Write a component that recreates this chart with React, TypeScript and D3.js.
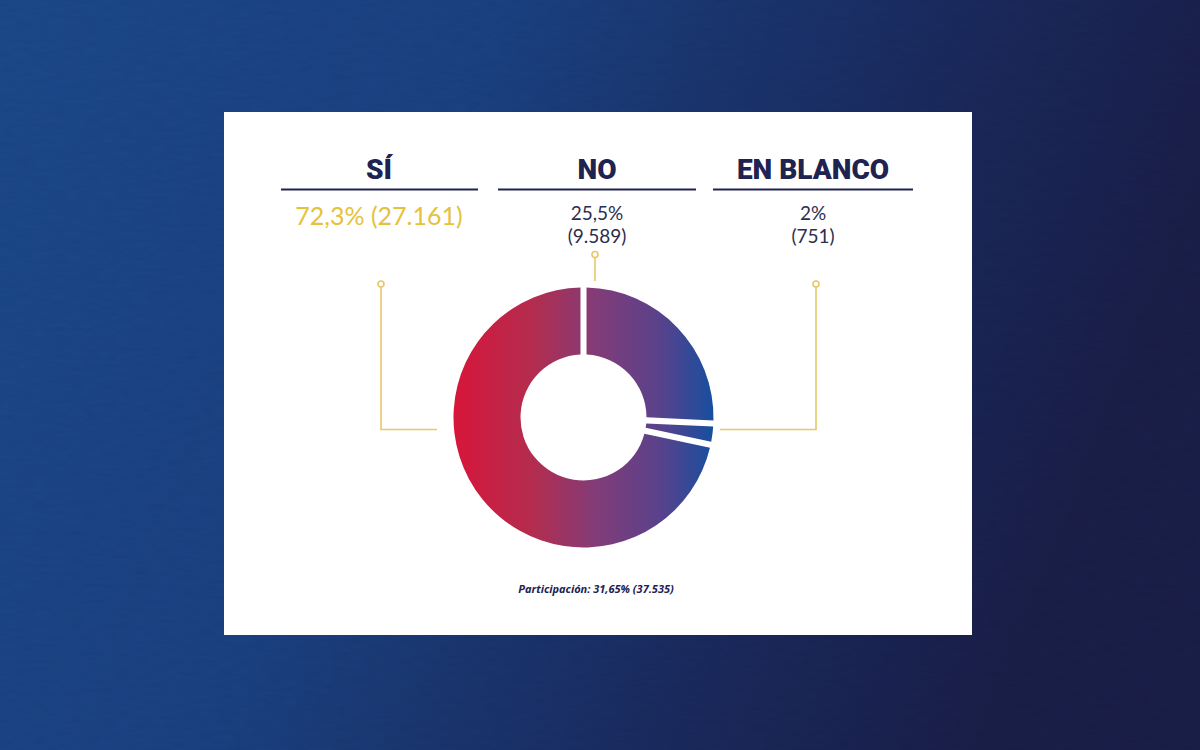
import React from "react";
import * as d3 from "d3";

const categories = ["SÍ", "NO", "EN BLANCO"];
const votes = [27161, 9589, 751];
const percentLabels = ["72,3%", "25,5%", "2%"];
const countLabels = ["(27.161)", "(9.589)", "(751)"];
const pieOrder = [1, 2, 0]; // drawn clockwise from top: NO, EN BLANCO, SÍ
const participation = "Participación: 31,65% (37.535)";

const W = 1200;
const H = 750;

export default function App() {
  const card = { x: 224, y: 112, w: 748, h: 523 };
  const cx = 583.5;
  const cy = 417.5;
  const outerR = 130;
  const innerR = 63;

  const headerXs = [379, 597, 813];

  const pieData = pieOrder.map((i) => ({ name: categories[i], value: votes[i] }));
  const pie = d3
    .pie<{ name: string; value: number }>()
    .value((d) => d.value)
    .sort(null)
    .padAngle(0.042);
  const arcs = pie(pieData);
  const arcGen = d3
    .arc<d3.PieArcDatum<{ name: string; value: number }>>()
    .innerRadius(innerR)
    .outerRadius(outerR);

  const navy = "#20224f";
  const yellow = "#e5c23c";
  const lineYellow = "#e8c766";

  return (
    <svg
      width={W}
      height={H}
      style={{ position: "absolute", left: 0, top: 0, display: "block" }}
    >
      <defs>
        <linearGradient id="bg" x1="0" y1="0" x2="1" y2="0.25">
          <stop offset="0" stopColor="#1c4a8d" />
          <stop offset="0.4" stopColor="#1b4283" />
          <stop offset="0.75" stopColor="#1a2b60" />
          <stop offset="1" stopColor="#1a1f4a" />
        </linearGradient>
        <linearGradient
          id="donut"
          gradientUnits="userSpaceOnUse"
          x1={-outerR}
          y1={0}
          x2={outerR}
          y2={0}
        >
          <stop offset="0" stopColor="#d7163a" />
          <stop offset="0.3" stopColor="#b42c4e" />
          <stop offset="0.55" stopColor="#823c78" />
          <stop offset="0.8" stopColor="#58428c" />
          <stop offset="1" stopColor="#164f9f" />
        </linearGradient>
        <filter id="paper" x="0" y="0" width="1" height="1">
          <feTurbulence type="fractalNoise" baseFrequency="0.06 0.25" numOctaves="2" seed="3" />
          <feColorMatrix
            type="matrix"
            values="0 0 0 0 0  0 0 0 0 0  0 0 0 0 0  0 0 0 0.08 0"
          />
          <feComposite in2="SourceGraphic" operator="in" />
        </filter>
      </defs>

      <rect x={0} y={0} width={W} height={H} fill="url(#bg)" />
      <rect x={0} y={0} width={W} height={H} fill="#000" filter="url(#paper)" />

      <rect x={card.x} y={card.y} width={card.w} height={card.h} fill="#ffffff" />

      {categories.map((c, i) => (
        <text
          key={c}
          x={headerXs[i]}
          y={179}
          textAnchor="middle"
          fontFamily="Roboto, 'DejaVu Sans', sans-serif"
          fontWeight={900}
          fontSize={28}
          fill={navy}
        >
          {c}
        </text>
      ))}
      <line x1={281} x2={478} y1={189.5} y2={189.5} stroke={navy} strokeWidth={1.8} />
      <line x1={498} x2={696} y1={189.5} y2={189.5} stroke={navy} strokeWidth={1.8} />
      <line x1={713} x2={913} y1={189.5} y2={189.5} stroke={navy} strokeWidth={1.8} />

      {/* SÍ value */}
      <text
        x={headerXs[0]}
        y={225}
        textAnchor="middle"
        fontFamily="Lato, 'Open Sans', sans-serif"
        fontWeight={400}
        fontSize={25}
        fill={yellow}
      >
        {percentLabels[0]} {countLabels[0]}
      </text>
      {/* NO / EN BLANCO values */}
      {[1, 2].map((i) => (
        <g key={i}>
          <text
            x={headerXs[i]}
            y={220}
            textAnchor="middle"
            fontFamily="Lato, 'Open Sans', sans-serif"
            fontWeight={400}
            fontSize={19}
            fill="#2c2e50"
          >
            {percentLabels[i]}
          </text>
          <text
            x={headerXs[i]}
            y={243}
            textAnchor="middle"
            fontFamily="Lato, 'Open Sans', sans-serif"
            fontWeight={400}
            fontSize={19}
            fill="#2c2e50"
          >
            {countLabels[i]}
          </text>
        </g>
      ))}

      {/* leader lines */}
      <g fill="none" stroke={lineYellow} strokeWidth={1.6}>
        <polyline points={`381,287 381,429.5 437,429.5`} />
        <circle cx={381} cy={284} r={3} fill="#fff" />
        <line x1={595} x2={595} y1={257} y2={281} />
        <circle cx={595} cy={254.5} r={3} fill="#fff" />
        <polyline points={`816,287 816,429.5 720,429.5`} />
        <circle cx={816} cy={284} r={3} fill="#fff" />
      </g>

      {/* donut */}
      <g transform={`translate(${cx},${cy})`}>
        {arcs.map((a) => (
          <path key={a.data.name} d={arcGen(a) || ""} fill="url(#donut)" />
        ))}
      </g>

      <text
        x={596}
        y={593}
        textAnchor="middle"
        fontFamily="'Open Sans', Roboto, sans-serif"
        fontWeight={700}
        fontStyle="italic"
        fontSize={11}
        fill={navy}
      >
        {participation}
      </text>
    </svg>
  );
}
